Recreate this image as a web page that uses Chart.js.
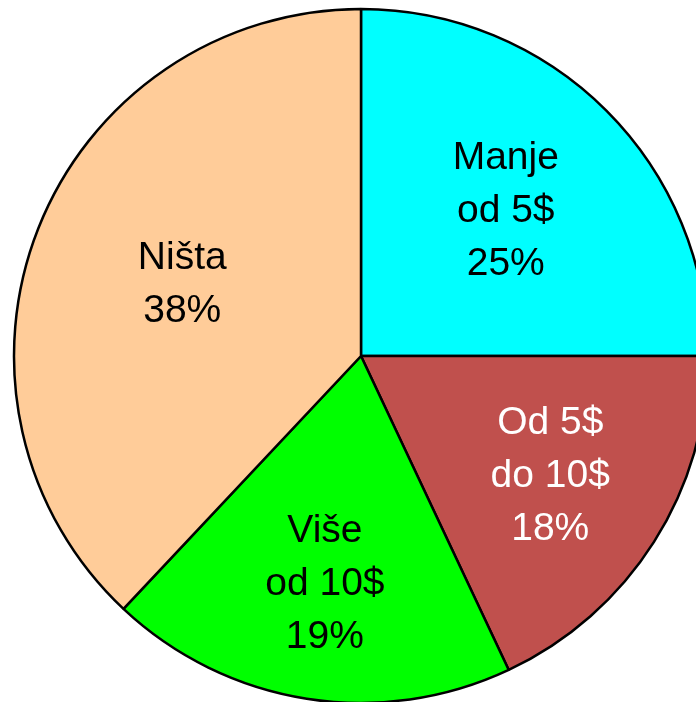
<!DOCTYPE html>
<html>
<head>
<meta charset="utf-8">
<script src="https://cdn.jsdelivr.net/npm/chart.js@4/dist/chart.umd.min.js"></script>
<style>
  html, body { margin: 0; padding: 0; background: #fff; }
  body { width: 696px; height: 702px; overflow: hidden; position: relative; }
  #wrap { position: absolute; left: 11px; top: 6px; width: 700px; height: 700px; }
</style>
</head>
<body>
<div id="wrap"><canvas id="pie"></canvas></div>
<script>
// Spending categories, shares in percent (clockwise from 12 o'clock)
const labels = [['Manje', 'od 5$'], ['Od 5$', 'do 10$'], ['Više', 'od 10$'], ['Ništa']];
const values = [25, 18, 19, 38];
const colors = ['#00FFFF', '#C0504D', '#00FF00', '#FFCC99'];
const textColors = ['#000', '#fff', '#000', '#000'];
// how far out from the centre each label sits (fraction of radius)
const labelRadius = [0.59, 0.646, 0.665, 0.554];

const sliceLabels = {
  id: 'sliceLabels',
  afterDatasetsDraw(chart) {
    const ctx = chart.ctx;
    const meta = chart.getDatasetMeta(0);
    ctx.save();
    ctx.font = '39px "Liberation Sans", Arial, sans-serif';
    ctx.textAlign = 'center';
    ctx.textBaseline = 'middle';
    meta.data.forEach((arc, i) => {
      const mid = (arc.startAngle + arc.endAngle) / 2;
      const r = arc.outerRadius * labelRadius[i];
      const cx = arc.x + Math.cos(mid) * r;
      const cy = arc.y + Math.sin(mid) * r;
      const lines = [...labels[i], values[i] + '%'];
      const lh = 53;
      const top = cy - (lines.length - 1) * lh / 2;
      ctx.fillStyle = textColors[i];
      lines.forEach((t, k) => ctx.fillText(t, cx, top + k * lh));
    });
    ctx.restore();
  }
};

new Chart(document.getElementById('pie'), {
  type: 'pie',
  data: {
    labels: labels.map(l => l.join(' ')),
    datasets: [{
      data: values,
      backgroundColor: colors,
      borderColor: '#000',
      borderWidth: 2.5
    }]
  },
  options: {
    responsive: true,
    maintainAspectRatio: false,
    animation: false,
    radius: 347,
    layout: { padding: 0 },
    plugins: {
      legend: { display: false },
      tooltip: { enabled: false }
    }
  },
  plugins: [sliceLabels]
});
</script>
</body>
</html>
